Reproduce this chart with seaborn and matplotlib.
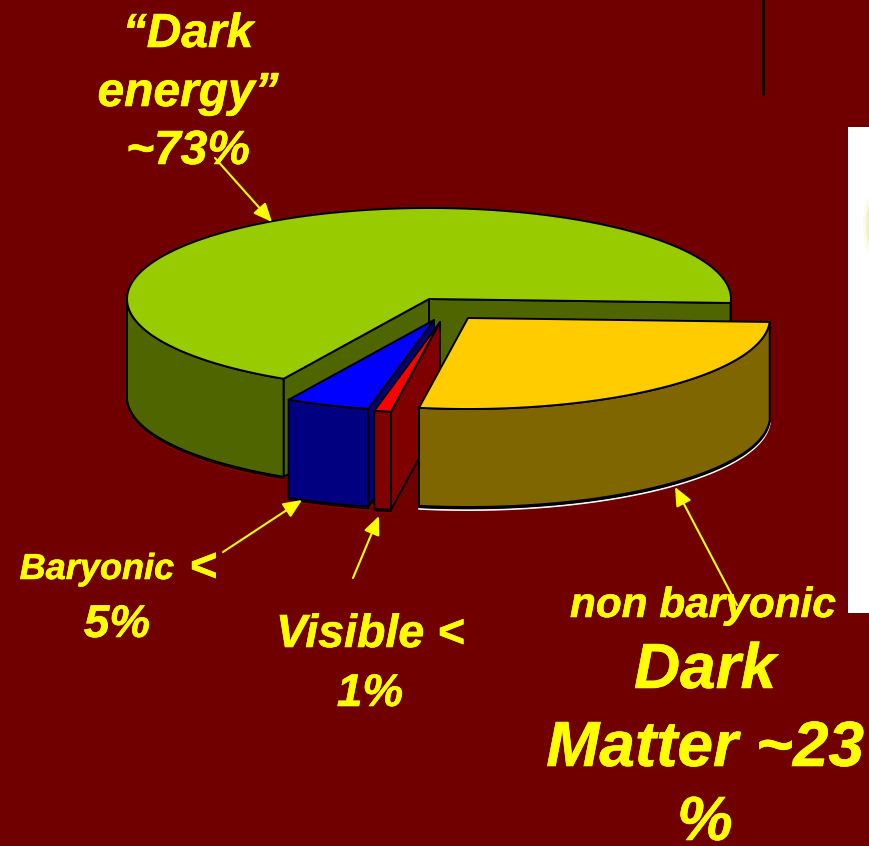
import numpy as np
import seaborn as sns
import matplotlib.pyplot as plt
import matplotlib.patheffects as pe
from matplotlib.patches import Rectangle, Ellipse

# share of the pie as it is drawn in the picture
names = ['Dark energy', 'Baryonic', 'Visible', 'Non baryonic']
shares = [67.7, 4.5, 0.9, 26.9]
top_colors = ['#99CC00', '#0000FF', '#FF0000', '#FFCC00']
side_colors = ['#4F6600', '#000080', '#800000', '#806600']
shift_x = [0, 5, 11, 39]
shift_y = [0, 21, 23, 19]

bg = '#700000'
yellow = '#FFFF00'

# 3d look of the pie, in pixels
cx, cy = 429, 299
rx, ry = 302, 91
depth = 98
start_angle = -2.5

sns.set_theme(style='white')
plt.rcParams['font.family'] = ['Liberation Sans', 'DejaVu Sans']

fig = plt.figure(figsize=(8.7, 8.46), dpi=100, facecolor=bg)
ax = fig.add_axes([0, 0, 1, 1])
ax.set_xlim(0, 870)
ax.set_ylim(846, 0)
ax.axis('off')

# stuff from the slide behind the chart
ax.add_patch(Rectangle((848, 127), 22, 486, color='white', lw=0))
ax.add_patch(Ellipse((870, 225), 8, 40, color='#F2F2C0', lw=0))
ax.add_patch(Ellipse((870, 225), 14, 56, color='#F2F2C0', alpha=0.3, lw=0))
ax.plot([763, 763], [0, 94], color='black', lw=1.8)


def arc(x0, y0, a0, a1):
    t = np.radians(np.linspace(a0, a1, 120))
    return x0 + rx * np.cos(t), y0 - ry * np.sin(t)


def wall(xs, ys, color, z):
    ax.fill(xs, ys, facecolor=color, edgecolor='black', lw=1.4, joinstyle='round', zorder=z)


palette_top = sns.color_palette(top_colors)
palette_side = sns.color_palette(side_colors)

angle = start_angle
for i, share in enumerate(shares):
    a0, a1 = angle, angle + share * 3.6
    angle = a1
    x0, y0 = cx + shift_x[i], cy + shift_y[i]
    z = 2 + i
    top_x, top_y = arc(x0, y0, a0, a1)

    # radial walls facing the viewer
    if np.sin(np.radians(a0 - 90)) < 0:
        wall([x0, top_x[0], top_x[0], x0], [y0, top_y[0], top_y[0] + depth, y0 + depth], palette_side[i], z)
    if np.sin(np.radians(a1 + 90)) < 0:
        wall([x0, top_x[-1], top_x[-1], x0], [y0, top_y[-1], top_y[-1] + depth, y0 + depth], palette_side[i], z)

    # outer rim, only the front part shows
    parts = []
    for lo, hi in [(a0, a1), (a0 + 360, a1 + 360)]:
        lo2, hi2 = max(lo, 180), min(hi, 360)
        if hi2 > lo2:
            parts.append((lo2, hi2))
    for lo, hi in parts:
        rim_x, rim_y = arc(x0, y0, lo, hi)
        # thin floor line under the rim
        line_color = 'white' if i == 3 else palette_side[2]
        ax.plot(rim_x, rim_y + depth + 3, color=line_color, lw=1.4, zorder=z)
        ax.plot(rim_x, rim_y + depth + 1.5, color='black', lw=1.2, zorder=z)
        wall(np.r_[rim_x, rim_x[::-1]], np.r_[rim_y, rim_y[::-1] + depth], palette_side[i], z)

    ax.fill(np.r_[x0, top_x], np.r_[y0, top_y], facecolor=palette_top[i],
            edgecolor='black', lw=1.4, joinstyle='round', zorder=z)

# labels
label_style = dict(color=yellow, fontweight='bold', fontstyle='italic', ha='center', va='baseline', zorder=10,
                   path_effects=[pe.withStroke(linewidth=0.4, foreground=yellow)])
ax.text(188, 47, '\u201cDark', fontsize=34.5, **label_style)
ax.text(188, 106, 'energy\u201d', fontsize=34.5, **label_style)
ax.text(188, 164, '~73%', fontsize=34.5, **label_style)
ax.text(97, 579, 'Baryonic', fontsize=26, **label_style)
ax.text(203, 581, '<', fontsize=34, **label_style)
ax.text(117, 637, '5%', fontsize=33, **label_style)
ax.text(370, 647, 'Visible <', fontsize=33.5, **label_style)
ax.text(370, 706, '1%', fontsize=33, **label_style)
ax.text(703, 617, 'non baryonic', fontsize=30.5, **label_style)
ax.text(705, 688, 'Dark', fontsize=46, **label_style)
ax.text(705, 766, 'Matter ~23', fontsize=46, **label_style)
ax.text(705, 840, '%', fontsize=45, **label_style)

# arrows
arrows = [((215, 158), (272, 222)), ((223, 552), (302, 500)), ((353, 578), (379, 516)), ((737, 605), (675, 487))]
for tail, head in arrows:
    ax.annotate('', xy=head, xytext=tail, zorder=11,
                arrowprops=dict(arrowstyle='-|>,head_length=0.75,head_width=0.33', color=yellow, lw=1.5,
                                mutation_scale=15, shrinkA=0, shrinkB=0))

fig.savefig('out.png', dpi=100, facecolor=bg)
